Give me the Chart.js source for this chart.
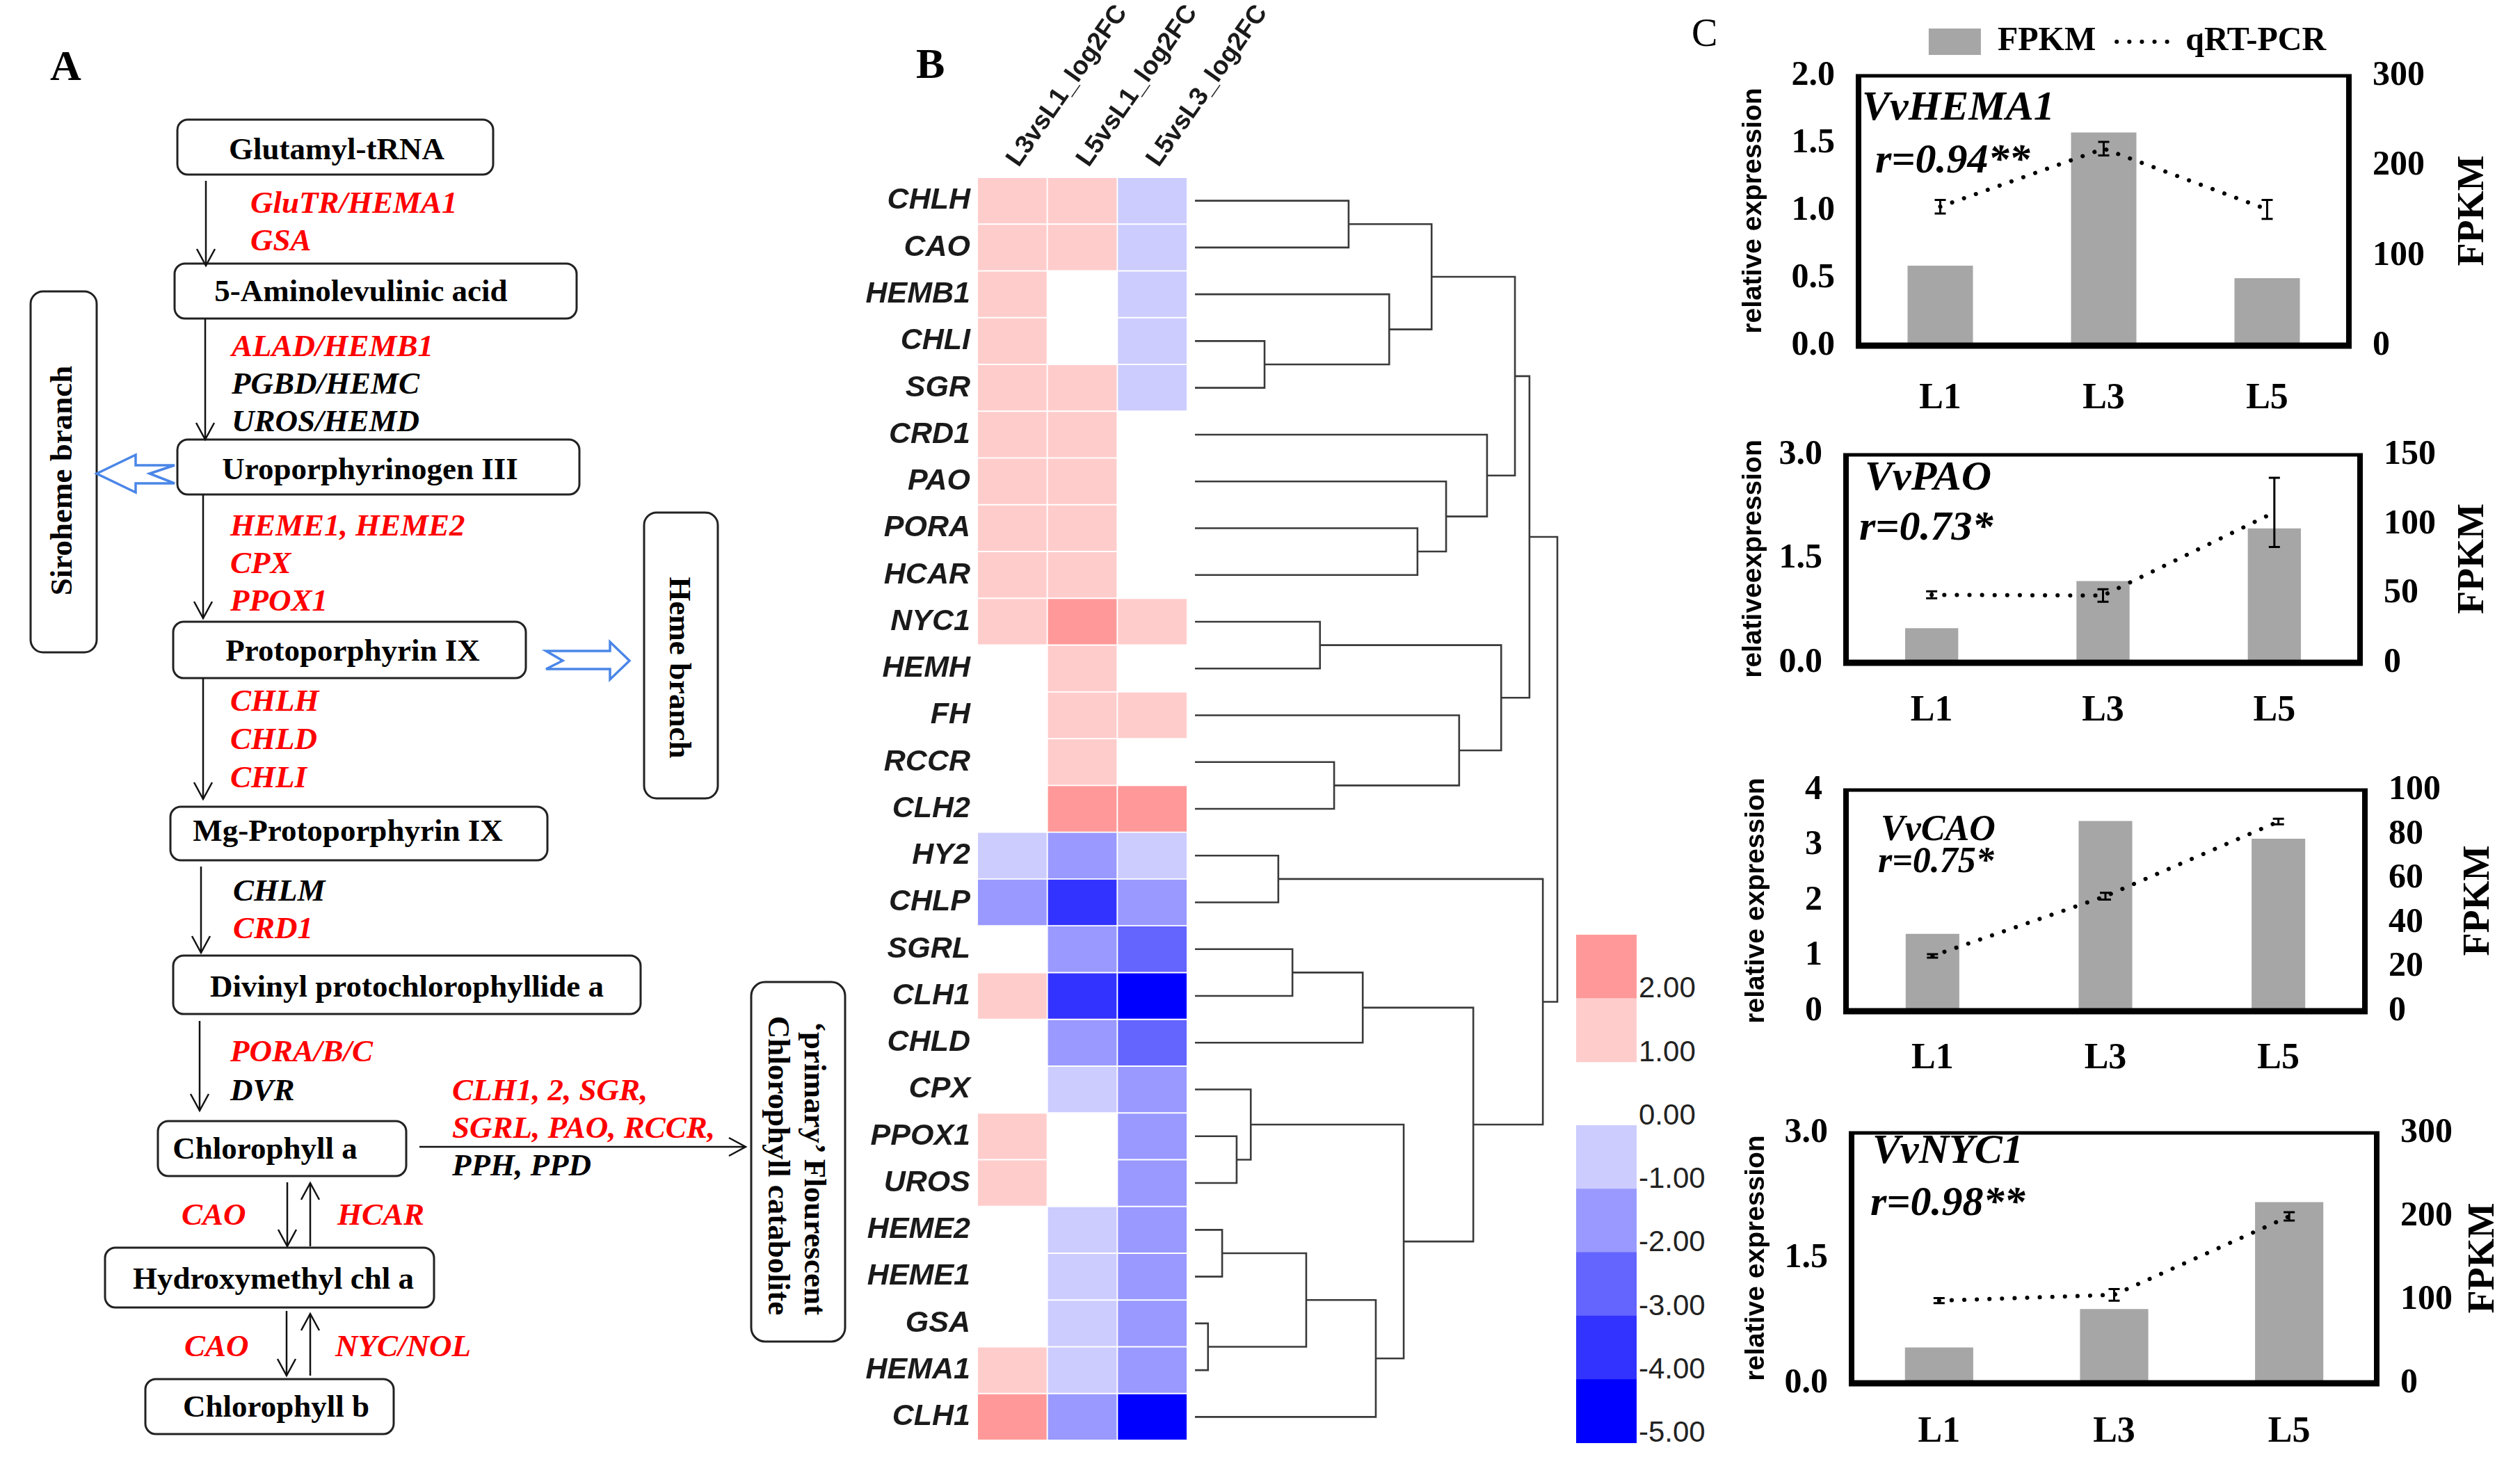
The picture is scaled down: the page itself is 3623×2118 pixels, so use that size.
<!DOCTYPE html>
<html>
<head>
<meta charset="utf-8">
<title>Chlorophyll metabolism: pathway, log2FC heatmap and qRT-PCR validation</title>
<script src="https://cdn.jsdelivr.net/npm/chart.js@4.4.1/dist/chart.umd.min.js"></script>
<style>
html,body{margin:0;padding:0;background:#fff;}
#root{position:relative;width:3623px;height:2118px;overflow:hidden;background:#fff;}
#root canvas{position:absolute;}
#ov{position:absolute;left:0;top:0;}
.bx{fill:#fff;stroke:#222;stroke-width:3;}
.bt{font-family:'Liberation Serif','Times New Roman',serif;font-weight:bold;font-size:45px;fill:#000;}
.g{font-family:'Liberation Serif','Times New Roman',serif;font-weight:bold;font-style:italic;font-size:45px;}
.r{fill:#ff0000;} .k{fill:#000;}
.ar{stroke:#111;stroke-width:2.5;fill:none;marker-end:url(#ah);}
.bl{fill:#fff;stroke:#4a86e8;stroke-width:3.5;stroke-linejoin:miter;}
.pl{font-family:'Liberation Serif','Times New Roman',serif;font-weight:bold;font-size:62px;fill:#000;}
.an{font-family:'Liberation Serif','Times New Roman',serif;font-weight:bold;font-style:italic;fill:#000;}
.kl{font-family:'Liberation Sans',Arial,sans-serif;font-size:42px;fill:#222;}
</style>
</head>
<body>
<div id="root">
<svg id="ov" width="3623" height="2118" viewBox="0 0 3623 2118" xmlns="http://www.w3.org/2000/svg">
<defs>
 <marker id="ah" markerUnits="userSpaceOnUse" markerWidth="30" markerHeight="32" refX="26" refY="15" orient="auto">
  <path d="M2,2 L26,15 L2,28" fill="none" stroke="#111" stroke-width="2.5"/>
 </marker>
</defs>
<!-- panel letters -->
<text class="pl" x="72" y="115">A</text>
<text class="pl" x="1317" y="112">B</text>
<text class="pl" x="2432" y="66" style="font-weight:normal;font-size:56px">C</text>

<!-- pathway boxes -->
<rect class="bx" x="255" y="172" width="454" height="79" rx="15"/>
<text class="bt" x="484" y="229" text-anchor="middle">Glutamyl-tRNA</text>
<rect class="bx" x="251" y="379" width="578" height="79" rx="15"/>
<text class="bt" x="519" y="433" text-anchor="middle">5-Aminolevulinic acid</text>
<rect class="bx" x="255" y="632" width="578" height="79" rx="15"/>
<text class="bt" x="532" y="689" text-anchor="middle">Uroporphyrinogen III</text>
<rect class="bx" x="249" y="894" width="507" height="81" rx="15"/>
<text class="bt" x="507" y="950" text-anchor="middle">Protoporphyrin IX</text>
<rect class="bx" x="245" y="1160" width="542" height="77" rx="15"/>
<text class="bt" x="500" y="1209" text-anchor="middle">Mg-Protoporphyrin IX</text>
<rect class="bx" x="249" y="1374" width="672" height="84" rx="15"/>
<text class="bt" x="585" y="1433" text-anchor="middle">Divinyl protochlorophyllide a</text>
<rect class="bx" x="227" y="1612" width="357" height="79" rx="15"/>
<text class="bt" x="381" y="1666" text-anchor="middle">Chlorophyll a</text>
<rect class="bx" x="151" y="1794" width="473" height="86" rx="15"/>
<text class="bt" x="393" y="1853" text-anchor="middle">Hydroxymethyl chl a</text>
<rect class="bx" x="209" y="1983" width="357" height="79" rx="15"/>
<text class="bt" x="397" y="2037" text-anchor="middle">Chlorophyll b</text>

<!-- side branch boxes -->
<rect class="bx" x="44" y="419" width="95" height="519" rx="18"/>
<text class="bt" transform="translate(88,691) rotate(-90)" text-anchor="middle" dominant-baseline="central">Siroheme branch</text>
<rect class="bx" x="926" y="737" width="106" height="411" rx="18"/>
<text class="bt" transform="translate(978,960) rotate(90)" text-anchor="middle" dominant-baseline="central">Heme branch</text>
<rect class="bx" x="1080" y="1412" width="135" height="517" rx="20"/>
<text class="bt" transform="translate(1172,1680) rotate(90)" text-anchor="middle" dominant-baseline="central">‘primary’ Flourescent</text>
<text class="bt" transform="translate(1120,1676) rotate(90)" text-anchor="middle" dominant-baseline="central">Chlorophyll catabolite</text>

<!-- blue hollow arrows -->
<polygon class="bl" points="139,681 195,654 195,669 251,669 215,681 251,695 195,695 195,708"/>
<polygon class="bl" points="785,936 877,936 877,923 905,950 877,977 877,962 785,962 809,950"/>

<!-- black arrows -->
<path class="ar" d="M296,260 L296,382"/>
<path class="ar" d="M295,458 L295,632"/>
<path class="ar" d="M292,711 L292,889"/>
<path class="ar" d="M292,975 L292,1149"/>
<path class="ar" d="M289,1246 L289,1370"/>
<path class="ar" d="M287,1468 L287,1597"/>
<path class="ar" d="M603,1649 L1072,1649"/>
<path class="ar" d="M413,1700 L413,1792"/>
<path class="ar" d="M446,1792 L446,1701"/>
<path class="ar" d="M412,1885 L412,1978"/>
<path class="ar" d="M446,1978 L446,1889"/>

<!-- enzyme / gene labels -->
<text class="g r" x="360" y="306">GluTR/HEMA1</text>
<text class="g r" x="360" y="360">GSA</text>
<text class="g r" x="333" y="512">ALAD/HEMB1</text>
<text class="g k" x="333" y="566">PGBD/HEMC</text>
<text class="g k" x="333" y="620">UROS/HEMD</text>
<text class="g r" x="331" y="770">HEME1, HEME2</text>
<text class="g r" x="331" y="824">CPX</text>
<text class="g r" x="331" y="878">PPOX1</text>
<text class="g r" x="331" y="1022">CHLH</text>
<text class="g r" x="331" y="1077">CHLD</text>
<text class="g r" x="331" y="1132">CHLI</text>
<text class="g k" x="335" y="1295">CHLM</text>
<text class="g r" x="335" y="1349">CRD1</text>
<text class="g r" x="331" y="1526">PORA/B/C</text>
<text class="g k" x="331" y="1582">DVR</text>
<text class="g r" x="650" y="1582">CLH1, 2, SGR,</text>
<text class="g r" x="650" y="1636">SGRL, PAO, RCCR,</text>
<text class="g k" x="650" y="1690">PPH, PPD</text>
<text class="g r" x="261" y="1761">CAO</text>
<text class="g r" x="485" y="1761">HCAR</text>
<text class="g r" x="265" y="1950">CAO</text>
<text class="g r" x="482" y="1950">NYC/NOL</text>

<!-- colour key (filled by script) -->
<g id="key"></g>

<!-- panel C annotations -->
<text class="an" x="2677" y="172" font-size="60">VvHEMA1</text>
<text class="an" x="2696" y="248" font-size="60">r=0.94**</text>
<text class="an" x="2681" y="704" font-size="60">VvPAO</text>
<text class="an" x="2673" y="776" font-size="60">r=0.73*</text>
<text class="an" x="2704" y="1208" font-size="52">VvCAO</text>
<text class="an" x="2700" y="1254" font-size="52">r=0.75*</text>
<text class="an" x="2692" y="1672" font-size="60">VvNYC1</text>
<text class="an" x="2689" y="1747" font-size="60">r=0.98**</text>
</svg>

<canvas id="heat" width="620" height="2090" style="left:1230px;top:0px;width:620px;height:2090px"></canvas>
<canvas id="dendro" width="560" height="1860" style="left:1700px;top:232px;width:560px;height:1860px"></canvas>
<canvas id="cHEMA1"></canvas>
<canvas id="cPAO"></canvas>
<canvas id="cCAO"></canvas>
<canvas id="cNYC1"></canvas>
</div>

<script>
// ---------------- DATA ----------------
const geneRows = ['CHLH','CAO','HEMB1','CHLI','SGR','CRD1','PAO','PORA','HCAR','NYC1','HEMH','FH','RCCR','CLH2',
                  'HY2','CHLP','SGRL','CLH1','CHLD','CPX','PPOX1','UROS','HEME2','HEME1','GSA','HEMA1','CLH1'];
const comparisons = ['L3vsL1_log2FC','L5vsL1_log2FC','L5vsL3_log2FC'];
// log2FC (binned estimates read from the colour classes; null = blank cell)
const L3vsL1 = [1.5,1.5,1.5,1.5,1.5,1.5,1.5,1.5,1.5,1.5,null,null,null,null,-0.5,-1.5,null,1.5,null,null,1.5,1.5,null,null,null,1.5,2.5];
const L5vsL1 = [1.5,1.5,null,null,1.5,1.5,1.5,1.5,1.5,2.5,1.5,1.5,1.5,2.5,-1.5,-3.5,-1.5,-3.5,-1.5,-0.5,null,null,-0.5,-0.5,-0.5,-0.5,-1.5];
const L5vsL3 = [-0.5,-0.5,-0.5,-0.5,-0.5,null,null,null,null,1.5,null,1.5,null,2.5,-0.5,-1.5,-2.5,-4.5,-2.5,-1.5,-1.5,-1.5,-1.5,-1.5,-1.5,-1.5,-4.5];

// colour classes of the key (upper bounds from top to bottom)
const keyLabels = ['2.00','1.00','0.00','-1.00','-2.00','-3.00','-4.00','-5.00'];
const keyBinLow = [2, 1, 0, -1, -2, -3, -4, -5];
const keyColors = ['#FF9999','#FFCCCC','#FFFFFF','#CCCCFF','#9999FF','#6464FF','#3333FF','#0000FF'];

// hierarchical clustering (scipy-like linkage: [nodeA, nodeB, height]; leaves 0..26, merge k -> node 27+k)
const linkage = [[24,25,0.36],[22,23,0.75],[20,21,1.15],[19,29,1.54],[3,4,1.92],[14,15,2.30],[16,17,2.69],
  [28,27,3.07],[9,10,3.45],[12,13,3.84],[0,1,4.24],[33,18,4.63],[34,26,4.99],[2,31,5.36],[30,39,5.76],
  [7,8,6.14],[37,40,6.53],[6,42,6.93],[11,36,7.29],[38,41,7.68],[5,44,8.06],[35,45,8.45],[43,47,8.83],
  [49,48,9.23],[32,46,9.60],[50,51,10.0]];

// panel C
const stages = ['L1','L3','L5'];
const hema1Fpkm = [89, 237, 75];
const hema1Rel  = [1.03, 1.46, 1.01];
const hema1Err  = [0.05, 0.05, 0.07];
const paoFpkm = [25, 59, 97];
const paoRel  = [0.98, 0.97, 2.17];
const paoErr  = [0.05, 0.09, 0.50];
const caoFpkm = [35, 86, 78];
const caoRel  = [1.00, 2.08, 3.43];
const caoErr  = [0.03, 0.06, 0.05];
const nyc1Fpkm = [43, 89, 217];
const nyc1Rel  = [0.99, 1.06, 2.00];
const nyc1Err  = [0.03, 0.07, 0.05];

// ---------------- STYLE ----------------
const SERIF = "'Liberation Serif','Times New Roman',serif";
const SANS = "'Liberation Sans',Arial,sans-serif";
Chart.defaults.animation = false;
Chart.defaults.devicePixelRatio = 1;

function colourFor(v){
  if (v === null) return 'rgba(0,0,0,0)';
  for (let i = 0; i < keyBinLow.length; i++) if (v >= keyBinLow[i]) return keyColors[i];
  return keyColors[keyColors.length-1];
}

// colour key
(function(){
  const g = document.getElementById('key');
  const NS = 'http://www.w3.org/2000/svg';
  const x = 2266, w = 87, top = 1344, step = 91.3;
  keyColors.forEach((c,i) => {
    if (c !== '#FFFFFF') {
      const r = document.createElementNS(NS,'rect');
      r.setAttribute('x', x); r.setAttribute('y', top + i*step);
      r.setAttribute('width', w); r.setAttribute('height', step+0.6);
      r.setAttribute('fill', c);
      g.appendChild(r);
    }
    const t = document.createElementNS(NS,'text');
    t.setAttribute('class','kl'); t.setAttribute('x', x + w + 3);
    t.setAttribute('y', top + (i+0.83)*step); t.setAttribute('dominant-baseline','central');
    t.textContent = keyLabels[i];
    g.appendChild(t);
  });
})();

// ---------------- HEATMAP ----------------
const heatCols = [L3vsL1, L5vsL1, L5vsL3];
new Chart(document.getElementById('heat'), {
  type: 'bar',
  data: {
    labels: geneRows,
    datasets: heatCols.map((vals, c) => ({
      label: comparisons[c],
      data: vals.map(v => v === null ? null : [c, c+1]),
      backgroundColor: vals.map(colourFor),
      borderColor: '#ffffff', borderWidth: 1.3, borderSkipped: false,
      barPercentage: 1, categoryPercentage: 1, grouped: false
    }))
  },
  options: {
    indexAxis: 'y', responsive: false,
    layout: {padding: {left: 0, right: 143, top: 0, bottom: 19}},
    plugins: {legend: {display: false}, tooltip: {enabled: false}},
    scales: {
      x: {type: 'linear', position: 'top', min: 0, max: 3,
          afterBuildTicks: s => { s.ticks = [0.5, 1.5, 2.5].map(v => ({value: v})); },
          ticks: {callback: (v, i) => comparisons[i], minRotation: 55, maxRotation: 55, autoSkip: false,
                  padding: 14, labelOffset: 16, color: '#1a1a1a', font: {family: SANS, size: 37, weight: 'bold', lineHeight: 0.5}},
          grid: {display: false, drawTicks: false}, border: {display: false},
          afterFit: s => { s.height = 255; s.paddingLeft = 0; s.paddingRight = 0; }},
      y: {type: 'category', offset: true,
          ticks: {autoSkip: false, padding: 10, color: '#1a1a1a', font: {family: SANS, size: 43, weight: 'bold', style: 'italic'}},
          grid: {display: false, drawTicks: false}, border: {display: false},
          afterFit: s => { s.width = 175; s.paddingTop = 0; s.paddingBottom = 0; }}
    }
  }
});

// ---------------- DENDROGRAM ----------------
const nodeY = [], nodeH = [];
geneRows.forEach((g, i) => { nodeY[i] = i + 0.5; nodeH[i] = 0; });
linkage.forEach(([a, b, h], k) => { nodeY[geneRows.length + k] = (nodeY[a] + nodeY[b]) / 2; nodeH[geneRows.length + k] = h; });
new Chart(document.getElementById('dendro'), {
  type: 'scatter',
  data: {
    datasets: linkage.map(([a, b, h]) => ({
      data: [{x: nodeH[a], y: nodeY[a]}, {x: h, y: nodeY[a]}, {x: h, y: nodeY[b]}, {x: nodeH[b], y: nodeY[b]}],
      showLine: true, borderColor: '#3a3a3a', borderWidth: 2.6, pointRadius: 0, tension: 0, clip: false,
      borderJoinStyle: 'miter'
    }))
  },
  options: {
    responsive: false,
    layout: {padding: {left: 18, right: 21, top: 23, bottom: 21}},
    plugins: {legend: {display: false}, tooltip: {enabled: false}},
    scales: {
      x: {type: 'linear', min: 0, max: 10, display: false},
      y: {type: 'linear', min: 0, max: geneRows.length, reverse: true, display: false}
    }
  }
});

// ---------------- PANEL C ----------------
const errorBarPlugin = {
  id: 'errorBars',
  afterDatasetsDraw(chart) {
    const ctx = chart.ctx;
    chart.data.datasets.forEach((ds, di) => {
      if (!ds.errorValues) return;
      const meta = chart.getDatasetMeta(di);
      const ys = chart.scales[ds.yAxisID];
      ctx.save(); ctx.strokeStyle = '#000'; ctx.lineWidth = 3;
      meta.data.forEach((pt, i) => {
        const v = ds.data[i], e = ds.errorValues[i];
        const x = pt.x, y0 = ys.getPixelForValue(v - e), y1 = ys.getPixelForValue(v + e);
        ctx.beginPath();
        ctx.moveTo(x, y0); ctx.lineTo(x, y1);
        ctx.moveTo(x - 8, y0); ctx.lineTo(x + 8, y0);
        ctx.moveTo(x - 8, y1); ctx.lineTo(x + 8, y1);
        ctx.stroke();
      });
      ctx.restore();
    });
  }
};
const framePlugin = {
  id: 'frame',
  afterDraw(chart) {
    const {left, right, top, bottom} = chart.chartArea;
    const ctx = chart.ctx;
    ctx.save(); ctx.strokeStyle = '#000';
    ctx.lineWidth = 8;
    ctx.beginPath(); ctx.moveTo(left, top); ctx.lineTo(left, bottom); ctx.moveTo(right, top); ctx.lineTo(right, bottom); ctx.stroke();
    ctx.lineWidth = 5;
    ctx.beginPath(); ctx.moveTo(left - 4, top); ctx.lineTo(right + 4, top); ctx.stroke();
    ctx.lineWidth = 9;
    ctx.beginPath(); ctx.moveTo(left - 4, bottom); ctx.lineTo(right + 4, bottom); ctx.stroke();
    ctx.restore();
  }
};
const rightTitlePlugin = {
  id: 'rightTitle',
  afterDraw(chart, args, opts) {
    const sc = chart.scales.y1; const ca = chart.chartArea; const ctx = chart.ctx;
    ctx.save();
    ctx.translate(ca.right + opts.offset, (ca.top + ca.bottom) / 2);
    ctx.rotate(-Math.PI / 2);
    ctx.font = 'bold 54px ' + SERIF; ctx.fillStyle = '#000';
    ctx.textAlign = 'center'; ctx.textBaseline = 'middle';
    ctx.fillText(sc.options.title.text, 0, 0);
    ctx.restore();
  }
};

const exprLayouts = {
  cHEMA1: {left: 2494, top: 0,    width: 1129, height: 620, area: {l: 2672, r: 3377, t: 109,  b: 497},  xPad: 45, rOff: 179},
  cPAO:   {left: 2494, top: 590,  width: 1129, height: 490, area: {l: 2654, r: 3393, t: 630,  b: 953},  xPad: 38, rOff: 163},
  cCAO:   {left: 2498, top: 1072, width: 1125, height: 500, area: {l: 2654, r: 3400, t: 1112, b: 1454}, xPad: 37, rOff: 164},
  cNYC1:  {left: 2498, top: 1565, width: 1125, height: 545, area: {l: 2662, r: 3417, t: 1605, b: 1989}, xPad: 39, rOff: 154}
};

function exprChart(id, s) {
  const L = exprLayouts[id];
  const cv = document.getElementById(id);
  cv.width = L.width; cv.height = L.height;
  cv.style.left = L.left + 'px'; cv.style.top = L.top + 'px';
  cv.style.width = L.width + 'px'; cv.style.height = L.height + 'px';
  const tickFont = {family: SERIF, size: 50, weight: 'bold'};
  const legendOn = !!s.legend;
  const padTop = legendOn ? 6 : (L.area.t - L.top);
  const scales = {
    x: {type: 'category', position: 'bottom', offset: true,
        grid: {display: false, drawTicks: false}, border: {display: false},
        ticks: {padding: L.xPad, color: '#000', font: {family: SERIF, size: 52, weight: 'bold'}},
        afterFit: sc => { sc.height = L.top + L.height - L.area.b; }},
    y: {position: 'left', min: 0, max: s.relMax,
        ticks: {stepSize: s.relStep, padding: 34, color: '#000', font: tickFont, callback: v => v.toFixed(s.dec)},
        title: {display: true, text: s.relTitle, color: '#000', padding: {top: 4, bottom: 4}, font: {family: SANS, size: 39, weight: 'bold'}},
        grid: {display: false, drawTicks: false}, border: {display: false},
        afterFit: sc => { sc.width = L.area.l - L.left; }},
    y1: {position: 'right', min: 0, max: s.fpkmMax,
        ticks: {stepSize: s.fpkmStep, padding: 34, color: '#000', font: tickFont},
        title: {display: false, text: 'FPKM'},
        grid: {display: false, drawTicks: false}, border: {display: false},
        afterFit: sc => { sc.width = L.left + L.width - L.area.r; }}
  };
  if (legendOn) {
    scales.xt = {type: 'linear', position: 'top', display: true,
      ticks: {display: false}, grid: {display: false, drawTicks: false}, border: {display: false},
      afterFit: sc => { sc.height = L.area.t - L.top - 6 - 88; }};
  }
  return new Chart(cv, {
    type: 'bar',
    data: {
      labels: stages,
      datasets: [
        {type: 'bar', label: 'FPKM', data: s.fpkm, yAxisID: 'y1', order: 1,
         backgroundColor: '#A6A6A6', barPercentage: s.barPct, categoryPercentage: 1},
        {type: 'line', label: 'qRT-PCR', data: s.rel, yAxisID: 'y', order: 0, errorValues: s.err,
         borderColor: '#000', borderWidth: 6, borderDash: [0.1, 18], borderCapStyle: 'round',
         pointRadius: 0, fill: false, tension: 0}
      ]
    },
    options: {
      responsive: false,
      layout: {padding: {left: 0, right: 0, top: padTop, bottom: 0}},
      plugins: {
        tooltip: {enabled: false},
        rightTitle: {offset: L.rOff},
        legend: legendOn ? {
          display: true, position: 'top',
          labels: {
            usePointStyle: true, pointStyleWidth: 75, boxHeight: 38, padding: 30, color: '#000',
            font: {family: SERIF, size: 48, weight: 'bold'},
            generateLabels: chart => {
              const ds = chart.data.datasets;
              return [
                {text: ds[0].label, fillStyle: ds[0].backgroundColor, strokeStyle: ds[0].backgroundColor,
                 lineWidth: 0, pointStyle: 'rect', datasetIndex: 0, hidden: false, fontColor: '#000'},
                {text: ds[1].label, fillStyle: 'rgba(0,0,0,0)', strokeStyle: ds[1].borderColor,
                 lineWidth: 6, lineDash: ds[1].borderDash, lineCap: 'round', pointStyle: 'line',
                 datasetIndex: 1, hidden: false, fontColor: '#000'}
              ];
            }
          }
        } : {display: false}
      },
      scales
    },
    plugins: [framePlugin, errorBarPlugin, rightTitlePlugin]
  });
}

exprChart('cHEMA1', {fpkm: hema1Fpkm, rel: hema1Rel, err: hema1Err, relMax: 2, relStep: 0.5, dec: 1,
  fpkmMax: 300, fpkmStep: 100, barPct: 0.40, relTitle: 'relative expression', legend: true});
exprChart('cPAO', {fpkm: paoFpkm, rel: paoRel, err: paoErr, relMax: 3, relStep: 1.5, dec: 1,
  fpkmMax: 150, fpkmStep: 50, barPct: 0.31, relTitle: 'relativeexpression'});
exprChart('cCAO', {fpkm: caoFpkm, rel: caoRel, err: caoErr, relMax: 4, relStep: 1, dec: 0,
  fpkmMax: 100, fpkmStep: 20, barPct: 0.31, relTitle: 'relative expression'});
exprChart('cNYC1', {fpkm: nyc1Fpkm, rel: nyc1Rel, err: nyc1Err, relMax: 3, relStep: 1.5, dec: 1,
  fpkmMax: 300, fpkmStep: 100, barPct: 0.39, relTitle: 'relative expression'});
</script>
</body>
</html>
